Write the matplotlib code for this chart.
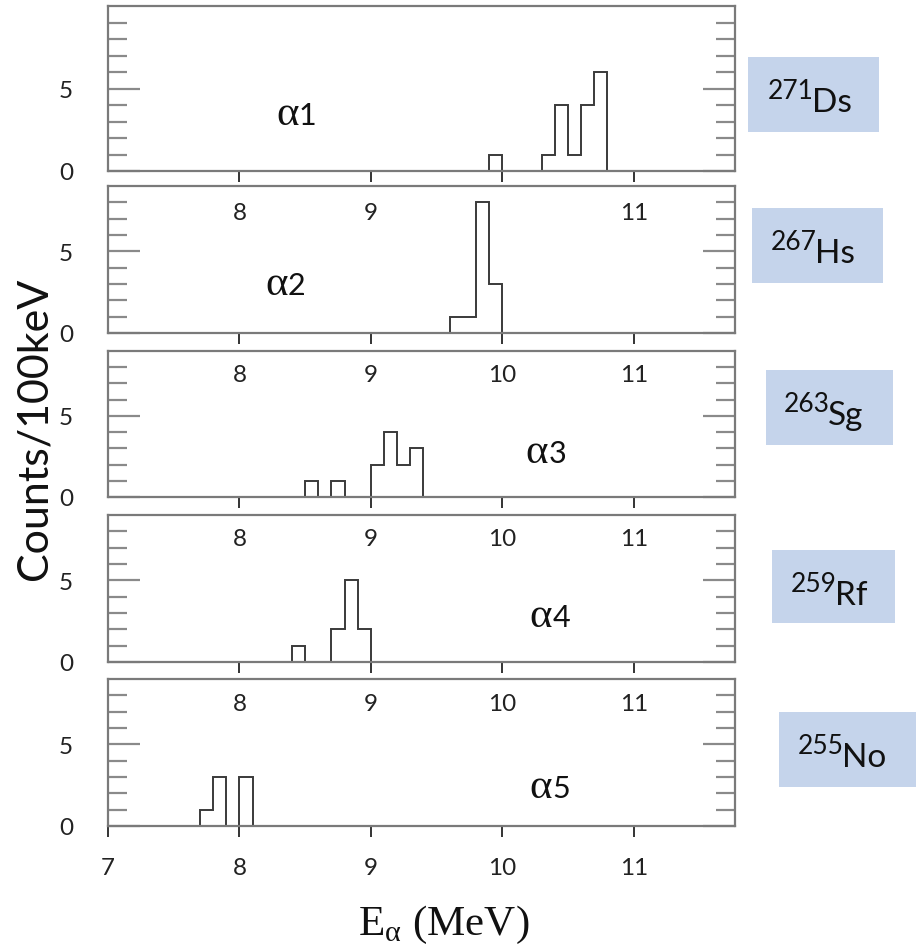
import matplotlib
matplotlib.use("Agg")
import matplotlib.pyplot as plt
from matplotlib.patches import Rectangle

plt.rcParams['mathtext.fontset'] = 'custom'
plt.rcParams['mathtext.rm'] = 'Liberation Serif'

# 100 keV bins: bin edges (MeV) and counts per bin
ds_edges = [9.9, 10.0, 10.1, 10.2, 10.3, 10.4, 10.5, 10.6, 10.7, 10.8]
ds_counts = [1, 0, 0, 0, 1, 4, 1, 4, 6]
hs_edges = [9.6, 9.7, 9.8, 9.9, 10.0]
hs_counts = [1, 1, 8, 3]
sg_edges = [8.5, 8.6, 8.7, 8.8, 8.9, 9.0, 9.1, 9.2, 9.3, 9.4]
sg_counts = [1, 0, 1, 0, 0, 2, 4, 2, 3]
rf_edges = [8.4, 8.5, 8.6, 8.7, 8.8, 8.9, 9.0]
rf_counts = [1, 0, 0, 2, 5, 2]
no_edges = [7.7, 7.8, 7.9, 8.0, 8.1]
no_counts = [1, 3, 0, 3]

masses = ['271', '267', '263', '259', '255']
elements = ['Ds', 'Hs', 'Sg', 'Rf', 'No']
alpha_names = ['1', '2', '3', '4', '5']
ymax = [10, 9, 9, 9, 9]

edges = [ds_edges, hs_edges, sg_edges, rf_edges, no_edges]
counts = [ds_counts, hs_counts, sg_counts, rf_counts, no_counts]

W, H = 916, 945
fig = plt.figure(figsize=(W / 100, H / 100), dpi=100)

def fx(px):
    return px / W

def fy(py):
    return 1 - py / H

# panel geometry in pixels (top, bottom)
panels = [(7, 172), (187, 334), (352, 498), (516, 663), (680, 827)]
left_px, right_px = 108, 735

# alpha label anchors (data coords: x, y baseline)
alpha_pos = [(8.45, 2.85), (8.37, 2.39), (10.35, 2.15), (10.38, 2.2), (10.38, 1.78)]

# label boxes (x0, y0, x1, y1) in px and split point between mass and symbol
boxes = [(748, 58, 879, 133), (752, 209, 883, 284), (766, 371, 893, 446),
         (772, 551, 895, 624), (779, 713, 916, 788)]
splits = [813, 816, 829, 836, 843]

frame_col = '#7a7a7a'
line_col = '#3a3a3a'

for i in range(5):
    top, bot = panels[i]
    ax = fig.add_axes([fx(left_px), fy(bot), fx(right_px - left_px), (bot - top) / H])
    ax.set_facecolor('none')
    ax.stairs(counts[i], edges[i], color=line_col, linewidth=1.4, baseline=0)
    ax.set_xlim(7, 11.77)
    ax.set_ylim(0, ymax[i])
    for sp in ax.spines.values():
        sp.set_color(frame_col)
        sp.set_linewidth(1.6)

    if i == 4:
        xt = [7, 8, 9, 10, 11]
        xl = ['7', '8', '9', '10', '11']
    elif i == 0:
        xt = [8, 9, 10, 11]
        xl = ['8', '9', '', '11']
    else:
        xt = [8, 9, 10, 11]
        xl = ['8', '9', '10', '11']
    ax.set_xticks(xt)
    ax.set_xticklabels(xl, fontfamily='Lato', fontsize=17.5, color='#222222')
    ax.tick_params(axis='x', direction='out', length=8, width=1.4, color='#333333', pad=14)

    ax.set_yticks([0, 5])
    ax.set_yticklabels(['0', '5'], fontfamily='Lato', fontsize=17.5, color='#222222')
    ax.set_yticks([m for m in range(1, ymax[i]) if m != 5], minor=True)
    ax.tick_params(axis='y', which='major', direction='in', length=23, width=1.6,
                   color='#8a8a8a', left=True, right=True, pad=25)
    ax.tick_params(axis='y', which='minor', direction='in', length=14, width=1.6,
                   color='#8a8a8a', left=True, right=True)

    ax_x, ax_y = alpha_pos[i]
    ax.text(ax_x, ax_y, '\u03b1', fontfamily='Liberation Serif', fontsize=31,
            ha='right', va='baseline', color='#111111')
    ax.text(ax_x, ax_y, alpha_names[i], fontfamily='Lato', fontsize=22,
            ha='left', va='baseline', color='#111111')

    x0, y0, x1, y1 = boxes[i]
    fig.patches.append(Rectangle((fx(x0), fy(y1)), fx(x1 - x0), (y1 - y0) / H,
                                 transform=fig.transFigure, facecolor='#c5d4eb',
                                 edgecolor='none', zorder=0))
    fig.text(fx(splits[i] + 1), fy(y0 + 41), masses[i], fontfamily='Lato', fontsize=19,
             ha='right', va='baseline', color='#111111')
    fig.text(fx(splits[i] - 1), fy(y0 + 54), elements[i], fontfamily='Lato', fontsize=24,
             ha='left', va='baseline', color='#111111')

fig.text(fx(444), fy(935), r'E$_\mathrm{\alpha}$ (MeV)', fontfamily='Liberation Serif',
         fontsize=31, ha='center', va='baseline', color='#111111')
fig.text(fx(35), fy(429), 'Counts/100keV', fontfamily='Lato', fontsize=31,
         rotation=90, ha='center', va='center', color='#111111')

fig.savefig('out.png', dpi=100)
